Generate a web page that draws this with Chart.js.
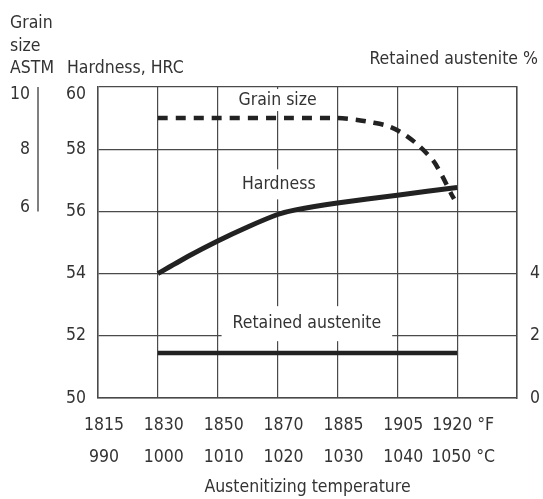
<!DOCTYPE html>
<html>
<head>
<meta charset="utf-8">
<script src="https://cdn.jsdelivr.net/npm/chart.js@4/dist/chart.umd.min.js"></script>
<style>
  html, body { margin: 0; padding: 0; background: #fff; }
  #wrap { width: 543px; height: 499px; }
</style>
</head>
<body>
<div id="wrap"><canvas id="c" width="543" height="499"></canvas></div>
<script>
// ---- Data ----
const tempC = [990, 1000, 1010, 1020, 1030, 1040, 1050];
const tempF = [1815, 1830, 1850, 1870, 1885, 1905, 1920];

const hardnessTemps  = [1000, 1005, 1010, 1015, 1020, 1023, 1030, 1040, 1050];
const hardnessValues = [54.0, 54.55, 55.05, 55.5, 55.9, 56.05, 56.27, 56.52, 56.77];

const grainTemps  = [1000, 1030, 1033, 1035.5, 1038.5, 1041, 1043.5, 1046, 1047.5, 1049, 1049.5];
const grainValues = [9.0, 9.0, 8.95, 8.87, 8.74, 8.5, 8.13, 7.63, 7.14, 6.57, 6.4];

const austeniteTemps  = [1000, 1050];
const austeniteValues = [1.45, 1.45];

const hardnessTicks  = [50, 52, 54, 56, 58, 60];
const grainTicks     = [6, 8, 10];
const austeniteTicks = [0, 2, 4];

// ---- Styles ----
const FONT = "'DejaVu Sans Condensed', 'DejaVu Sans', sans-serif";
const TXT = '#333333';
const GRID = '#4a4a4a';
const LINE = '#222222';
Chart.defaults.font.family = FONT;
Chart.defaults.font.size = 17.5;
Chart.defaults.color = TXT;

const pts = (xs, ys) => xs.map((x, i) => ({ x: x, y: ys[i] }));

const labelsPlugin = {
  id: 'labels',
  beforeDatasetsDraw(chart) {
    const ctx = chart.ctx;
    const xs = chart.scales.x, ys = chart.scales.y;
    const items = [
      { t: 'Grain size', x: 1020, y: 59.58, padX: 8, h: 22 },
      { t: 'Hardness', x: 1020.2, y: 56.87, padX: 8, h: 30 },
      { t: 'Retained austenite', x: 1024.9, y: 52.39, padX: 11, h: 35 }
    ];
    ctx.save();
    ctx.font = '17.5px ' + FONT;
    ctx.textAlign = 'center';
    ctx.textBaseline = 'middle';
    items.forEach(it => {
      const px = xs.getPixelForValue(it.x);
      const py = ys.getPixelForValue(it.y);
      const w = ctx.measureText(it.t).width + 2 * it.padX;
      ctx.fillStyle = '#ffffff';
      ctx.fillRect(px - w / 2, py - it.h / 2, w, it.h);
      ctx.fillStyle = TXT;
      ctx.fillText(it.t, px, py);
    });
    ctx.restore();
  },
  afterDraw(chart) {
    const ctx = chart.ctx;
    ctx.save();
    ctx.font = '17.5px ' + FONT;
    ctx.fillStyle = TXT;
    ctx.textBaseline = 'alphabetic';
    ctx.textAlign = 'left';
    ctx.fillText('Grain', 10, 28);
    ctx.fillText('size', 10, 50.5);
    ctx.fillText('ASTM', 10, 73);
    ctx.fillText('Hardness, HRC', 67, 73);
    ctx.textAlign = 'right';
    ctx.fillText('Retained austenite %', 538, 64);
    // grain size axis line (spans only 6..10)
    const g = chart.scales.grain;
    ctx.strokeStyle = '#555555';
    ctx.lineWidth = 1.5;
    ctx.beginPath();
    ctx.moveTo(g.right - 2, g.getPixelForValue(grainTicks[grainTicks.length - 1]));
    ctx.lineTo(g.right - 2, g.getPixelForValue(grainTicks[0]));
    ctx.stroke();
    ctx.restore();
  }
};

new Chart(document.getElementById('c'), {
  type: 'line',
  data: {
    datasets: [
      {
        label: 'Grain size',
        data: pts(grainTemps, grainValues),
        yAxisID: 'grain',
        borderColor: LINE,
        borderWidth: 4.5,
        borderDash: [10, 8],
        pointRadius: 0,
        tension: 0.3,
        fill: false
      },
      {
        label: 'Hardness',
        data: pts(hardnessTemps, hardnessValues),
        yAxisID: 'y',
        borderColor: LINE,
        borderWidth: 5,
        pointRadius: 0,
        tension: 0.2,
        fill: false
      },
      {
        label: 'Retained austenite',
        data: pts(austeniteTemps, austeniteValues),
        yAxisID: 'ra',
        borderColor: LINE,
        borderWidth: 4.5,
        pointRadius: 0,
        tension: 0,
        fill: false
      }
    ]
  },
  options: {
    responsive: false,
    animation: false,
    devicePixelRatio: 1,
    layout: { padding: { top: 87, left: 0, right: 0, bottom: 0 } },
    plugins: { legend: { display: false }, tooltip: { enabled: false } },
    scales: {
      x: {
        type: 'linear',
        position: 'bottom',
        min: 990, max: 1060,
        afterBuildTicks: s => { s.ticks = tempC.concat([1060]).map(v => ({ value: v })); },
        ticks: {
          padding: 11,
          labelOffset: 6,
          maxRotation: 0,
          autoSkip: false,
          font: { size: 17.5, lineHeight: 1.83 },
          callback: (v) => {
            const i = tempC.indexOf(v);
            if (i < 0) return '';
            const last = i === tempC.length - 1;
            return [String(tempF[i]) + (last ? ' °F' : ''), String(tempC[i]) + (last ? ' °C' : '')];
          }
        },
        grid: { color: GRID, lineWidth: 1.2, drawTicks: false },
        border: { color: GRID, width: 1.5 },
        title: { display: true, text: 'Austenitizing temperature', font: { size: 17.5, lineHeight: 1.2 }, padding: { top: 0, bottom: 1 } },
        afterFit: s => { s.height = 101; }
      },
      y: {
        position: 'left',
        min: 50, max: 60,
        weight: 0,
        afterBuildTicks: s => { s.ticks = hardnessTicks.map(v => ({ value: v })); },
        ticks: {
          padding: 12,
          font: { size: 17.5, lineHeight: 0.9 },
          callback: v => (v === hardnessTicks[hardnessTicks.length - 1] ? ['', String(v)] : String(v))
        },
        grid: { color: GRID, lineWidth: 1.2, drawTicks: false },
        border: { color: GRID, width: 1.5 },
        afterFit: s => { s.width = 58; }
      },
      grain: {
        position: 'left',
        min: 0, max: 10,
        weight: 5,
        afterBuildTicks: s => { s.ticks = grainTicks.map(v => ({ value: v })); },
        ticks: {
          padding: 10,
          font: c => ({ size: 17.5, lineHeight: (c.tick && c.tick.value === grainTicks[0]) ? 0.46 : 0.9 }),
          callback: v => {
            if (v === grainTicks[grainTicks.length - 1]) return ['', String(v)];
            if (v === grainTicks[0]) return [String(v), ''];
            return String(v);
          }
        },
        grid: { display: false, drawTicks: false },
        border: { display: false },
        afterFit: s => { s.width = 40; }
      },
      ra: {
        position: 'right',
        min: 0, max: 10,
        afterBuildTicks: s => { s.ticks = austeniteTicks.map(v => ({ value: v })); },
        ticks: { padding: 13 },
        grid: { display: false, drawTicks: false },
        border: { color: GRID, width: 1.5 },
        afterFit: s => { s.width = 26; }
      }
    }
  },
  plugins: [labelsPlugin]
});
</script>
</body>
</html>
